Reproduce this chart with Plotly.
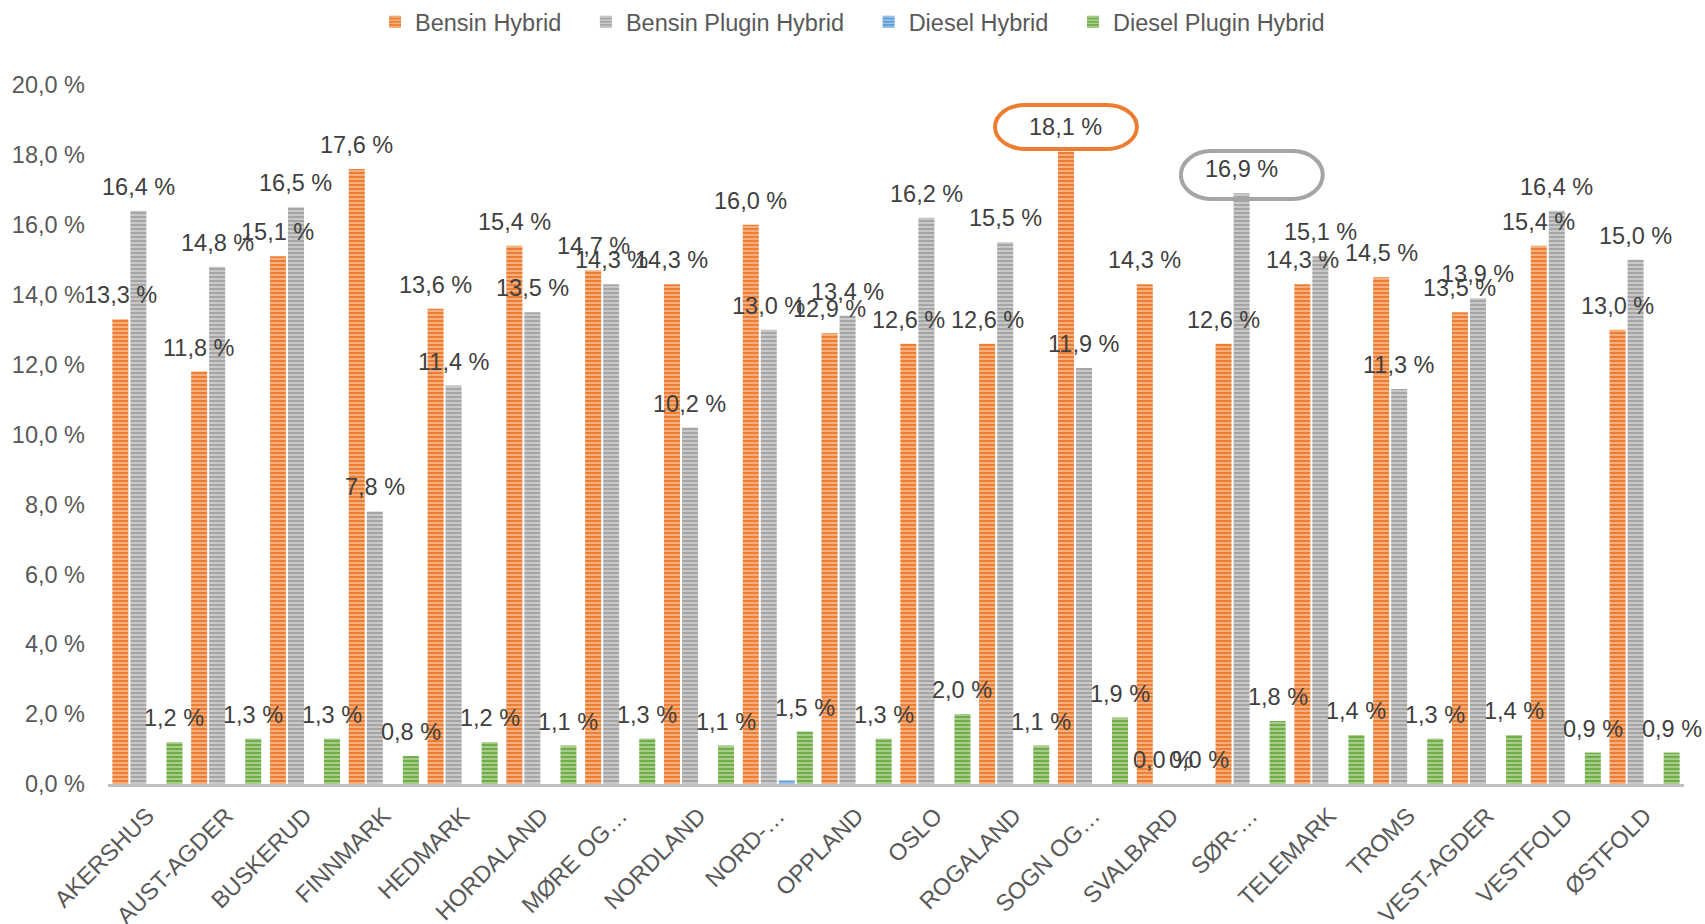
import plotly.graph_objects as go

categories = ["AKERSHUS", "AUST-AGDER", "BUSKERUD", "FINNMARK", "HEDMARK", "HORDALAND",
              "MØRE OG…", "NORDLAND", "NORD-…", "OPPLAND", "OSLO", "ROGALAND", "SOGN OG…",
              "SVALBARD", "SØR-…", "TELEMARK", "TROMS", "VEST-AGDER", "VESTFOLD", "ØSTFOLD"]
bensin_hybrid = [13.3, 11.8, 15.1, 17.6, 13.6, 15.4, 14.7, 14.3, 16.0, 12.9,
                 12.6, 12.6, 18.1, 14.3, 12.6, 14.3, 14.5, 13.5, 15.4, 13.0]
bensin_plugin_hybrid = [16.4, 14.8, 16.5, 7.8, 11.4, 13.5, 14.3, 10.2, 13.0, 13.4,
                        16.2, 15.5, 11.9, 0.0, 16.9, 15.1, 11.3, 13.9, 16.4, 15.0]
diesel_hybrid = [None, None, None, None, None, None, None, None, 0.1, None,
                 None, None, None, None, None, None, None, None, None, None]
diesel_plugin_hybrid = [1.2, 1.3, 1.3, 0.8, 1.2, 1.1, 1.3, 1.1, 1.5, 1.3,
                        2.0, 1.1, 1.9, 0.0, 1.8, 1.4, 1.3, 1.4, 0.9, 0.9]
series_names = ["Bensin Hybrid", "Bensin Plugin Hybrid", "Diesel Hybrid", "Diesel Plugin Hybrid"]
series_colors = ["#ED7D31", "#A5A5A5", "#5B9BD5", "#70AD47"]
series_labeled = [True, True, False, True]
y_tickvals = [0, 2, 4, 6, 8, 10, 12, 14, 16, 18, 20]
y_ticktext = ["0,0 %", "2,0 %", "4,0 %", "6,0 %", "8,0 %", "10,0 %", "12,0 %",
              "14,0 %", "16,0 %", "18,0 %", "20,0 %"]
# hand-drawn highlight rings: (category, series index)
highlights = [("SOGN OG…", 0), ("SØR-…", 1)]

FONT = "Liberation Sans, Arial, sans-serif"
FS = 23.5
BARGAP = 0.085
BARGROUPGAP = 0.11
NBSP = "\u00a0"

all_series = [bensin_hybrid, bensin_plugin_hybrid, diesel_hybrid, diesel_plugin_hybrid]

fig = go.Figure()
for j, (name, vals, col) in enumerate(zip(series_names, all_series, series_colors)):
    legend_name = name + (NBSP * 3 if j < len(series_names) - 1 else "")
    fig.add_trace(go.Bar(
        name=legend_name, x=categories, y=vals,
        marker=dict(color=col, line=dict(width=0),
                    pattern=dict(shape="-", fillmode="replace", bgcolor=col,
                                 fgcolor="rgba(255,255,255,0.55)", size=4, solidity=0.35)),
    ))

def fmt(v):
    return f"{v:.1f} %".replace(".", ",")

slot = (1 - BARGAP) / len(all_series)
annotations = []
for k, (vals, lab) in enumerate(zip(all_series, series_labeled)):
    if not lab:
        continue
    for i, v in enumerate(vals):
        if v is None:
            continue
        xpos = i - (1 - BARGAP) / 2 + slot * (k + 0.5)
        annotations.append(dict(x=xpos, y=v, xref="x", yref="y", text=fmt(v),
                                showarrow=False, yanchor="bottom", yshift=9,
                                font=dict(family=FONT, size=FS, color="#404040")))


def stadium(x0, x1, y0, y1, rx):
    ry = (y1 - y0) / 2
    c = 0.5523
    return (f"M {x0 + rx},{y0} L {x1 - rx},{y0} "
            f"C {x1 - rx + c * rx},{y0} {x1},{y0 + ry - c * ry} {x1},{y0 + ry} "
            f"C {x1},{y0 + ry + c * ry} {x1 - rx + c * rx},{y1} {x1 - rx},{y1} "
            f"L {x0 + rx},{y1} "
            f"C {x0 + rx - c * rx},{y1} {x0},{y0 + ry + c * ry} {x0},{y0 + ry} "
            f"C {x0},{y0 + ry - c * ry} {x0 + rx - c * rx},{y0} {x0 + rx},{y0} Z")


ring_style = [dict(dx=0.0, lo=0.07, hi=1.33), dict(dx=0.13, lo=-0.16, hi=1.21)]
shapes = []
for (cat, k), st in zip(highlights, ring_style):
    i = categories.index(cat)
    v = all_series[k][i]
    xc = i - (1 - BARGAP) / 2 + slot * (k + 0.5) + st["dx"]
    shapes.append(dict(type="path", xref="x", yref="y",
                       path=stadium(xc - 0.9, xc + 0.9, v + st["lo"], v + st["hi"], 0.38),
                       line=dict(color=series_colors[k], width=4)))

fig.update_layout(
    width=1705, height=924,
    margin=dict(l=108, r=21, t=85, b=140, autoexpand=False),
    paper_bgcolor="white", plot_bgcolor="white",
    barmode="group", bargap=BARGAP, bargroupgap=BARGROUPGAP,
    font=dict(family=FONT, size=FS, color="#595959"),
    legend=dict(orientation="h", x=0.5, xanchor="center", xref="container",
                y=1 - 22 / 924, yanchor="middle", yref="container",
                font=dict(family=FONT, size=FS, color="#595959"),
                itemwidth=30, traceorder="normal"),
    annotations=annotations,
    shapes=shapes,
)
fig.update_xaxes(type="category", range=[-0.5, len(categories) - 0.5], autorange=False,
                 showgrid=False, showline=True, linecolor="#BFBFBF",
                 linewidth=2.5, tickangle=-45, ticks="", ticklabelstandoff=6,
                 tickfont=dict(family=FONT, size=FS, color="#595959"))
fig.update_yaxes(range=[0, 20], autorange=False, tickvals=y_tickvals, ticktext=y_ticktext,
                 showgrid=False, zeroline=False, showline=False, ticks="",
                 ticklabelstandoff=22,
                 tickfont=dict(family=FONT, size=FS, color="#595959"))

fig.write_html("out.html", config={"displayModeBar": False},
               post_script="document.body.style.margin='0';")
